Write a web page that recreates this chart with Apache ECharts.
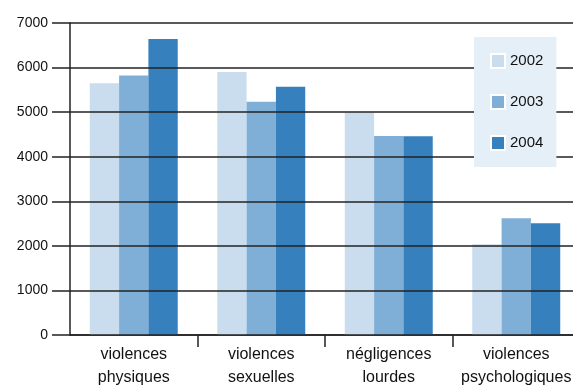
<!DOCTYPE html>
<html>
<head>
<meta charset="utf-8">
<script src="https://cdn.jsdelivr.net/npm/echarts@6/dist/echarts.min.js"></script>
<style>
  html, body { margin: 0; padding: 0; background: #fff; }
  #chart { width: 573px; height: 385px; }
</style>
</head>
<body>
<div id="chart"></div>
<script>
// categories and values
var categories = ['violences\nphysiques', 'violences\nsexuelles', 'négligences\nlourdes', 'violences\npsychologiques'];
var years = ['2002', '2003', '2004'];
var v2002 = [5650, 5900, 4990, 2035];
var v2003 = [5820, 5235, 4465, 2620];
var v2004 = [6640, 5570, 4460, 2505];
var yTicks = [0, 1000, 2000, 3000, 4000, 5000, 6000, 7000];
var colors = ['#c9ddee', '#7fafd6', '#3580bd'];

var chart = echarts.init(document.getElementById('chart'));
var seriesData = [v2002, v2003, v2004];

var series = years.map(function (y, i) {
  return {
    name: y,
    type: 'bar',
    data: seriesData[i],
    barGap: 0,
    barCategoryGap: '31%',
    itemStyle: { color: colors[i] },
    z: 2
  };
});

chart.setOption({
  animation: false,
  textStyle: { fontFamily: 'Liberation Sans' },
  grid: { left: 70, top: 23, width: 510, height: 312, containLabel: false, outerBoundsMode: 'none' },
  legend: {
    orient: 'vertical',
    left: 474, top: 37,
    backgroundColor: '#e5eff7',
    padding: [16, 13, 16, 16],
    itemGap: 25,
    itemWidth: 14, itemHeight: 14,
    itemTextGap: 7,
    icon: 'rect',
    itemStyle: { borderColor: '#fff', borderWidth: 2 },
    textStyle: { fontSize: 15, color: '#111', fontFamily: 'Liberation Sans' },
    data: years,
    z: 10
  },
  xAxis: {
    type: 'category',
    data: categories,
    axisLine: { show: true, lineStyle: { color: '#222', width: 1.5 } },
    axisTick: {
      show: true, alignWithLabel: false,
      length: 12, lineStyle: { color: '#222', width: 1.5 },
      // no tick under the y axis, as in the picture
      interval: function (i) { return i > 0; }
    },
    axisLabel: { fontSize: 16, color: '#111', lineHeight: 23, margin: 8, interval: 0 }
  },
  yAxis: {
    type: 'value',
    min: 0, max: 7000, interval: 1000,
    z: 5,
    axisLine: { show: true, lineStyle: { color: '#222', width: 1.5 } },
    axisTick: { show: true, length: 18, lineStyle: { color: '#222', width: 1.5 } },
    splitLine: { show: true, lineStyle: { color: '#222', width: 1.5 } },
    axisLabel: {
      fontSize: 14, color: '#111', margin: 22,
      formatter: function (v) { return yTicks.indexOf(v) >= 0 ? String(v) : ''; }
    }
  },
  series: series
});
</script>
</body>
</html>
